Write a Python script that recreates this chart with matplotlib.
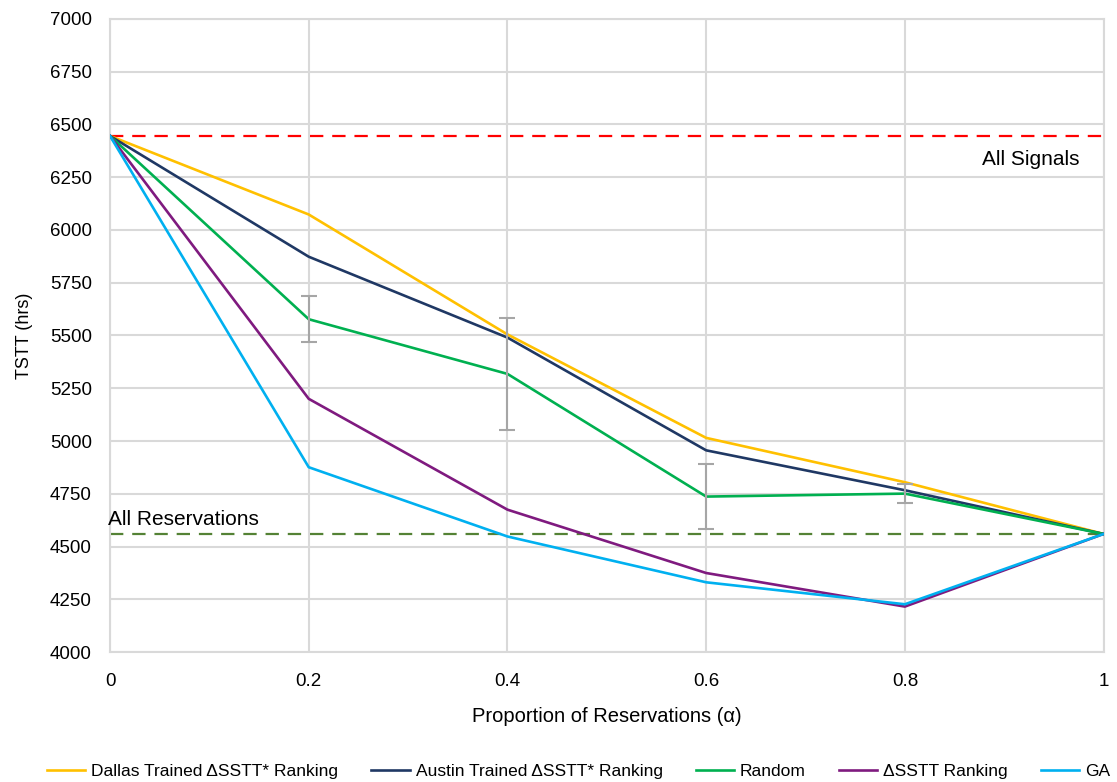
import matplotlib
matplotlib.use("Agg")
import matplotlib.pyplot as plt

alpha = [0, 0.2, 0.4, 0.6, 0.8, 1.0]
dallas = [6445, 6073, 5505, 5015, 4805, 4560]
austin = [6445, 5873, 5490, 4956, 4767, 4560]
random_ = [6445, 5577, 5318, 4737, 4751, 4560]
random_err = [0, 110, 265, 152, 45, 0]
dsstt = [6445, 5200, 4675, 4375, 4216, 4560]
ga = [6445, 4876, 4548, 4331, 4227, 4560]
all_signals = 6445
all_reservations = 4560
names = ["Dallas Trained ΔSSTT* Ranking", "Austin Trained ΔSSTT* Ranking",
         "Random", "ΔSSTT Ranking", "GA"]
yticks = list(range(4000, 7001, 250))
xticks = [0, 0.2, 0.4, 0.6, 0.8, 1]
xticklabels = ["0", "0.2", "0.4", "0.6", "0.8", "1"]

plt.rcParams['font.family'] = ['Liberation Sans', 'DejaVu Sans']

fig = plt.figure(figsize=(11.17, 7.82), dpi=100)
ax = fig.add_axes([0.0985, 0.166, 0.8895, 0.810])

grid_c = "#d9d9d9"
ax.set_xlim(0, 1)
ax.set_ylim(4000, 7000)
ax.set_xticks(xticks)
ax.set_xticklabels(xticklabels)
ax.set_yticks(yticks)
ax.grid(True, color=grid_c, lw=1.5)
ax.set_axisbelow(True)
for s in ax.spines.values():
    s.set_color(grid_c)
    s.set_linewidth(1.5)
ax.tick_params(length=0, labelsize=13.5, colors="#000000")
ax.tick_params(axis="y", pad=13)
ax.tick_params(axis="x", pad=15)

ax.axhline(all_signals, color="#FF0000", lw=1.6, ls=(0, (6, 4)), zorder=2)
ax.axhline(all_reservations, color="#548235", lw=1.6, ls=(0, (6, 4)), zorder=2)

cols = ["#FFC000", "#1F3864", "#00B050", "#7F1A7F", "#00B0F0"]
series = [dallas, austin, random_, dsstt, ga]
lines = []
for vals, c, n in zip(series, cols, names):
    l, = ax.plot(alpha, vals, color=c, lw=1.9, label=n, zorder=3)
    lines.append(l)
ax.errorbar(alpha[1:5], random_[1:5], yerr=random_err[1:5], fmt="none",
            ecolor="#A6A6A6", elinewidth=1.5, capsize=6, capthick=1.5, zorder=4)

ax.text(0.976, 6335, "All Signals", ha="right", va="center", fontsize=15)
ax.text(-0.002, 4628, "All Reservations", ha="left", va="center", fontsize=15)

ax.set_ylabel("TSTT (hrs)", fontsize=13, labelpad=12)
ax.set_xlabel("Proportion of Reservations (α)", fontsize=14.5, labelpad=12)

fig.legend(handles=lines, loc="center", bbox_to_anchor=(0.518, 0.014), ncol=5,
           frameon=False, prop={"size": 12.5},
           handlelength=2.2, handletextpad=0.35, columnspacing=1.9)

fig.savefig("out.png", dpi=100)
